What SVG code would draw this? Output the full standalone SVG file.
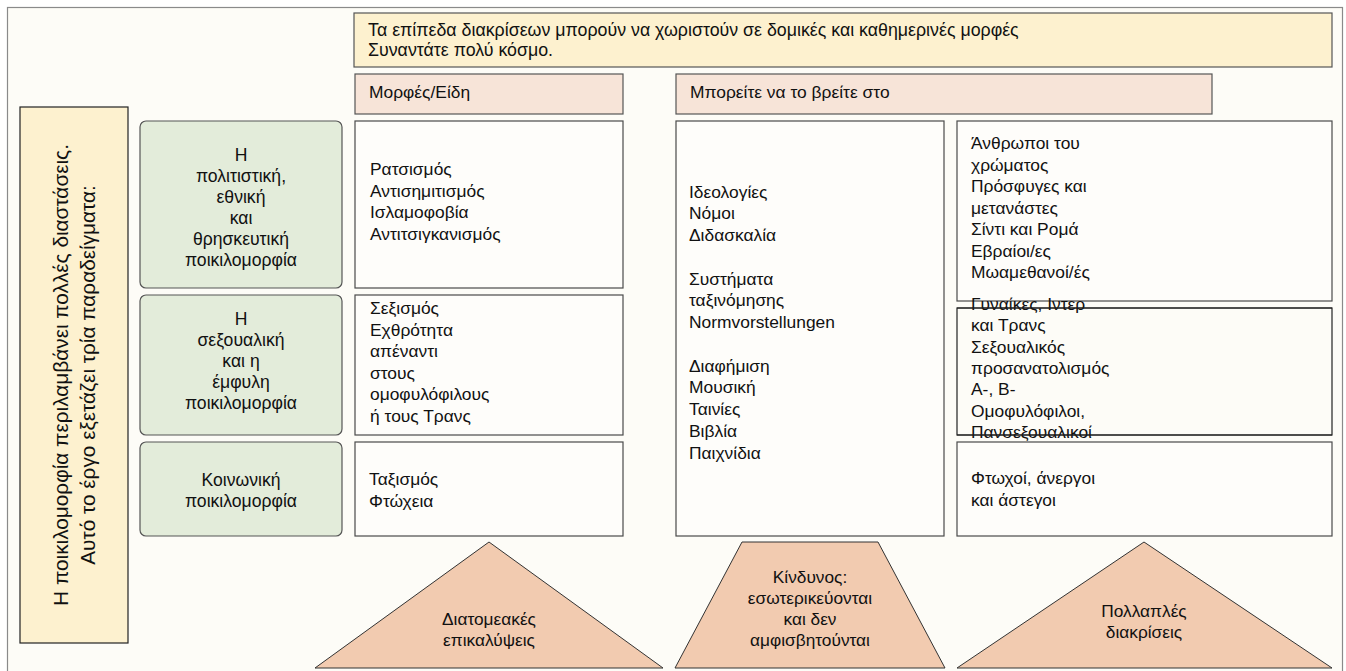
<svg xmlns="http://www.w3.org/2000/svg" width="1346" height="671" viewBox="0 0 1346 671">
<style>
text{font-family:"Liberation Sans",Arial,"Noto Sans",sans-serif;fill:#111;}
.t{font-size:17.4px;}
.g{font-size:17.6px;text-anchor:middle;}
.c{text-anchor:middle;font-size:17.3px;}
.box{fill:#fefdfa;stroke:#4a4a4a;stroke-width:1.2;}
.green{fill:#e3ecda;stroke:#555;stroke-width:1.2;}
.pink{fill:#f7e4d8;stroke:#555;stroke-width:1.2;}
.yel{fill:#fdf1cf;stroke:#555;stroke-width:1.2;}
.peach{fill:#f2cbb0;stroke:#333;stroke-width:1;}
</style>
<rect x="0" y="0" width="1346" height="671" fill="#ffffff"/>
<rect id="frame" x="7.5" y="7.5" width="1335" height="670" fill="#fdfcf7" stroke="#8a8a8a" stroke-width="1.2"/>

<g id="banner">
<rect class="yel" x="354" y="13" width="978" height="54"/>
<text x="368" y="36" font-size="17.8">Τα επίπεδα διακρίσεων μπορούν να χωριστούν σε δομικές και καθημερινές μορφές</text>
<text x="368" y="56" font-size="17.8">Συναντάτε πολύ κόσμο.</text>
</g>

<g id="header-forms">
<rect class="pink" x="355" y="74" width="268" height="40"/>
<text class="t" x="369" y="98">Μορφές/Είδη</text>
</g>
<g id="header-find">
<rect class="pink" x="676" y="74" width="536" height="40"/>
<text class="t" x="690" y="98">Μπορείτε να το βρείτε στο</text>
</g>

<g id="left-box">
<rect x="20" y="107" width="108" height="536" fill="#fdf1cf" stroke="#222" stroke-width="1.2"/>
<text transform="translate(68,375) rotate(-90)" text-anchor="middle" font-size="20.8">Η ποικιλομορφία περιλαμβάνει πολλές διαστάσεις.</text>
<text transform="translate(95,375) rotate(-90)" text-anchor="middle" font-size="20.8">Αυτό το έργο εξετάζει τρία παραδείγματα:</text>
</g>

<g id="dim-cultural">
<rect class="green" x="140" y="121" width="202" height="167" rx="6"/>
<text class="g" x="241" y="161">Η</text>
<text class="g" x="241" y="182">πολιτιστική,</text>
<text class="g" x="241" y="203">εθνική</text>
<text class="g" x="241" y="224">και</text>
<text class="g" x="241" y="245">θρησκευτική</text>
<text class="g" x="241" y="266">ποικιλομορφία</text>
</g>
<g id="dim-sexual">
<rect class="green" x="140" y="295" width="202" height="140" rx="6"/>
<text class="g" x="241" y="325">Η</text>
<text class="g" x="241" y="346">σεξουαλική</text>
<text class="g" x="241" y="367">και η</text>
<text class="g" x="241" y="388">έμφυλη</text>
<text class="g" x="241" y="409">ποικιλομορφία</text>
</g>
<g id="dim-social">
<rect class="green" x="140" y="442" width="202" height="94" rx="6"/>
<text class="g" x="241" y="486">Κοινωνική</text>
<text class="g" x="241" y="507">ποικιλομορφία</text>
</g>

<g id="forms-cultural">
<rect class="box" x="355" y="121" width="268" height="167"/>
<text class="t" x="370" y="175">Ρατσισμός</text>
<text class="t" x="370" y="196.5">Αντισημιτισμός</text>
<text class="t" x="370" y="218">Ισλαμοφοβία</text>
<text class="t" x="370" y="239.5">Αντιτσιγκανισμός</text>
</g>
<g id="forms-sexual">
<rect class="box" x="355" y="295" width="268" height="140"/>
<text class="t" x="370" y="314">Σεξισμός</text>
<text class="t" x="370" y="335.5">Εχθρότητα</text>
<text class="t" x="370" y="357">απέναντι</text>
<text class="t" x="370" y="378.5">στους</text>
<text class="t" x="370" y="400">ομοφυλόφιλους</text>
<text class="t" x="370" y="421.5">ή τους Τρανς</text>
</g>
<g id="forms-social">
<rect class="box" x="355" y="442" width="268" height="94"/>
<text class="t" x="369" y="485">Ταξισμός</text>
<text class="t" x="369" y="506.5">Φτώχεια</text>
</g>

<g id="where">
<rect class="box" x="676" y="121" width="268" height="415"/>
<text class="t" x="689" y="197.5">Ιδεολογίες</text>
<text class="t" x="689" y="219.25">Νόμοι</text>
<text class="t" x="689" y="241">Διδασκαλία</text>
<text class="t" x="689" y="284.5">Συστήματα</text>
<text class="t" x="689" y="306.25">ταξινόμησης</text>
<text class="t" x="689" y="328">Normvorstellungen</text>
<text class="t" x="689" y="371.5">Διαφήμιση</text>
<text class="t" x="689" y="393.25">Μουσική</text>
<text class="t" x="689" y="415">Ταινίες</text>
<text class="t" x="689" y="436.75">Βιβλία</text>
<text class="t" x="689" y="458.5">Παιχνίδια</text>
</g>

<g id="groups-cultural">
<rect class="box" x="957" y="121" width="375" height="180"/>
<text class="t" x="971" y="149">Άνθρωποι του</text>
<text class="t" x="971" y="170.5">χρώματος</text>
<text class="t" x="971" y="192">Πρόσφυγες και</text>
<text class="t" x="971" y="213.5">μετανάστες</text>
<text class="t" x="971" y="235">Σίντι και Ρομά</text>
<text class="t" x="971" y="256.5">Εβραίοι/ες</text>
<text class="t" x="971" y="278">Μωαμεθανοί/ές</text>
</g>
<g id="groups-sexual">
<rect x="957" y="308" width="375" height="127" fill="none" stroke="#222" stroke-width="1.2"/>
<text class="t" x="971" y="310">Γυναίκες, Ιντερ</text>
<text class="t" x="971" y="331.3">και Τρανς</text>
<text class="t" x="971" y="352.6">Σεξουαλικός</text>
<text class="t" x="971" y="374">προσανατολισμός</text>
<text class="t" x="971" y="395.2">Α-, Β-</text>
<text class="t" x="971" y="416.5">Ομοφυλόφιλοι,</text>
<text class="t" x="971" y="437.8">Πανσεξουαλικοί</text>
<line x1="957" y1="308" x2="1332" y2="308" stroke="#222" stroke-width="1.2"/>
<line x1="957" y1="435" x2="1332" y2="435" stroke="#222" stroke-width="1.2"/>
</g>
<g id="groups-social">
<rect class="box" x="957" y="442" width="375" height="94"/>
<text class="t" x="971" y="484">Φτωχοί, άνεργοι</text>
<text class="t" x="971" y="505.5">και άστεγοι</text>
</g>

<g id="tri-intersect">
<polygon class="peach" points="489,542 315,668 663,668"/>
<text class="c" x="489" y="625">Διατομεακές</text>
<text class="c" x="489" y="646">επικαλύψεις</text>
</g>
<g id="trap-risk">
<polygon class="peach" points="742,542 878,542 945,668 675,668"/>
<text class="c" x="810" y="583">Κίνδυνος:</text>
<text class="c" x="810" y="604">εσωτερικεύονται</text>
<text class="c" x="810" y="625">και δεν</text>
<text class="c" x="810" y="646">αμφισβητούνται</text>
</g>
<g id="tri-multiple">
<polygon class="peach" points="1144,542 957,668 1332,668"/>
<text class="c" x="1144" y="617">Πολλαπλές</text>
<text class="c" x="1144" y="638">διακρίσεις</text>
</g>

<g id="connectors"></g>
</svg>
